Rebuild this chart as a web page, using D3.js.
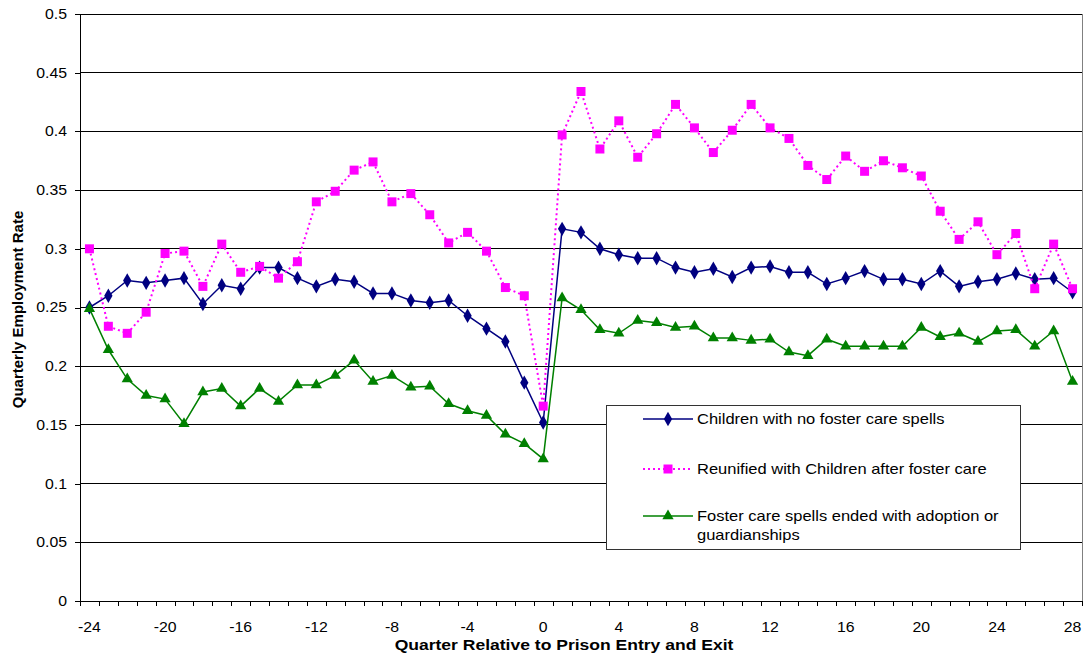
<!DOCTYPE html>
<html>
<head>
<meta charset="utf-8">
<script src="https://cdn.jsdelivr.net/npm/d3@7/dist/d3.min.js"></script>
<style>
  body { margin: 0; background: #fff; }
  svg { font-family: "Liberation Sans", Arial, sans-serif; }
</style>
</head>
<body>
<svg id="chart" width="1090" height="655"></svg>
<script>
// quarter relative to prison entry (<=0) and exit (>0)
const quarters = [-24, -23, -22, -21, -20, -19, -18, -17, -16, -15, -14, -13, -12, -11, -10, -9, -8, -7, -6, -5, -4, -3, -2, -1, 0,
  1, 2, 3, 4, 5, 6, 7, 8, 9, 10, 11, 12, 13, 14, 15, 16, 17, 18, 19, 20, 21, 22, 23, 24, 25, 26, 27, 28];
const xTickLabels = [-24, -20, -16, -12, -8, -4, 0, 4, 8, 12, 16, 20, 24, 28];
const yTicks = [0, 0.05, 0.1, 0.15, 0.2, 0.25, 0.3, 0.35, 0.4, 0.45, 0.5];
const yTickLabels = ["0", "0.05", "0.1", "0.15", "0.2", "0.25", "0.3", "0.35", "0.4", "0.45", "0.5"];

const noFoster = [0.250, 0.260, 0.273, 0.271, 0.273, 0.275, 0.253, 0.269, 0.266, 0.284, 0.284, 0.275, 0.268,
  0.274, 0.272, 0.262, 0.262, 0.256, 0.254, 0.256, 0.243, 0.232, 0.221, 0.186, 0.152,
  0.317, 0.314, 0.300, 0.295, 0.292, 0.292, 0.284, 0.280, 0.283, 0.276, 0.284, 0.285, 0.280, 0.280,
  0.270, 0.275, 0.281, 0.274, 0.274, 0.270, 0.281, 0.268, 0.272, 0.274, 0.279, 0.274, 0.275, 0.263];
const reunified = [0.300, 0.234, 0.228, 0.246, 0.296, 0.298, 0.268, 0.304, 0.280, 0.285, 0.275, 0.289, 0.340,
  0.349, 0.367, 0.374, 0.340, 0.347, 0.329, 0.305, 0.314, 0.298, 0.267, 0.260, 0.166,
  0.397, 0.434, 0.385, 0.409, 0.378, 0.398, 0.423, 0.403, 0.382, 0.401, 0.423, 0.403, 0.394, 0.371,
  0.359, 0.379, 0.366, 0.375, 0.369, 0.362, 0.332, 0.308, 0.323, 0.295, 0.313, 0.266, 0.304, 0.266];
const adoption = [0.249, 0.214, 0.189, 0.175, 0.172, 0.151, 0.178, 0.181, 0.166, 0.181, 0.170, 0.184, 0.184,
  0.192, 0.205, 0.187, 0.192, 0.182, 0.183, 0.168, 0.162, 0.158, 0.142, 0.134, 0.121,
  0.258, 0.248, 0.231, 0.228, 0.239, 0.237, 0.233, 0.234, 0.224, 0.224, 0.222, 0.223, 0.212, 0.209,
  0.223, 0.217, 0.217, 0.217, 0.217, 0.233, 0.225, 0.228, 0.221, 0.230, 0.231, 0.217, 0.230, 0.187];

const series = [
  { name: "Children with no foster care spells", values: noFoster, color: "#000080", dash: null, symbol: d3.symbolDiamond, size: 60 },
  { name: "Reunified with Children after foster care", values: reunified, color: "#ff00ff", dash: "2,3", symbol: d3.symbolSquare, size: 81 },
  { name: "Foster care spells ended with adoption or guardianships", values: adoption, color: "#008000", dash: null, symbol: d3.symbolTriangle, size: 55 }
];

const svg = d3.select("#chart");
const margin = { top: 14, right: 8, bottom: 54, left: 80 };
const width = 1090, height = 655;
// the reference text is drawn a bit wider than the font's natural width
const stretch = 1.13;

const x = d3.scaleBand()
  .domain(d3.range(quarters.length))
  .range([margin.left, width - margin.right])
  .padding(0);
const cx = i => x(i) + x.bandwidth() / 2;

const y = d3.scaleLinear()
  .domain([0, 0.5])
  .range([height - margin.bottom, margin.top]);

// gridlines
svg.append("g")
  .attr("shape-rendering", "crispEdges")
  .selectAll("line")
  .data(yTicks.slice(1))
  .join("line")
  .attr("x1", margin.left).attr("x2", width - margin.right)
  .attr("y1", d => y(d)).attr("y2", d => y(d))
  .attr("stroke", "#000");

// right border of plot area
svg.append("line")
  .attr("shape-rendering", "crispEdges")
  .attr("x1", width - margin.right).attr("x2", width - margin.right)
  .attr("y1", margin.top).attr("y2", height - margin.bottom)
  .attr("stroke", "#808080");

// y axis
const yAxis = g => g
  .attr("transform", `translate(${margin.left},0)`)
  .call(d3.axisLeft(y).tickValues(yTicks).tickSize(5).tickSizeOuter(0).tickPadding(8)
    .tickFormat((d, i) => yTickLabels[i]))
  .call(g => g.selectAll("text").attr("font-size", 14).attr("fill", "#000").attr("class", "wide"))
  .call(g => g.selectAll("line,path").attr("stroke", "#000").attr("shape-rendering", "crispEdges"));
svg.append("g").call(yAxis);

// x axis: tick marks at category boundaries, labels at every 4th category
const xb = d3.scaleLinear().domain([0, quarters.length]).range([margin.left, width - margin.right]);
svg.append("g")
  .attr("transform", `translate(0,${height - margin.bottom})`)
  .call(d3.axisBottom(xb).tickValues(d3.range(quarters.length + 1))
    .tickSize(5).tickSizeOuter(0).tickFormat(""))
  .call(g => g.selectAll("line,path").attr("stroke", "#000").attr("shape-rendering", "crispEdges"));

svg.append("g")
  .attr("transform", `translate(0,${height - margin.bottom})`)
  .call(d3.axisBottom(x)
    .tickValues(xTickLabels.map(q => quarters.indexOf(q)))
    .tickFormat(i => quarters[i])
    .tickSize(0).tickPadding(21))
  .call(g => g.select(".domain").remove())
  .call(g => g.selectAll("text").attr("font-size", 14).attr("fill", "#000").attr("class", "wide"));

// axis titles
svg.append("text")
  .attr("class", "wide")
  .attr("x", 564).attr("y", 650)
  .attr("text-anchor", "middle")
  .attr("font-size", 15.5).attr("font-weight", "bold")
  .text("Quarter Relative to Prison Entry and Exit");

svg.append("text")
  .attr("transform", `translate(23,${(margin.top + height - margin.bottom) / 2 + 2}) rotate(-90)`)
  .attr("text-anchor", "middle")
  .attr("font-size", 15).attr("font-weight", "bold")
  .text("Quarterly Employment Rate");

// lines and markers
const line = d3.line().x((d, i) => cx(i)).y(d => y(d));

series.forEach(s => {
  svg.append("path")
    .datum(s.values)
    .attr("fill", "none")
    .attr("stroke", s.color)
    .attr("stroke-width", s.dash ? 2 : 1.5)
    .attr("stroke-dasharray", s.dash)
    .attr("d", line);

  svg.append("g")
    .selectAll("path")
    .data(s.values)
    .join("path")
    .attr("transform", (d, i) => `translate(${cx(i)},${y(d)})`)
    .attr("d", d3.symbol(s.symbol, s.size))
    .attr("fill", s.color);
});

// legend
const legend = svg.append("g").attr("transform", "translate(606,405)");
legend.append("rect")
  .attr("x", 1).attr("y", 1).attr("width", 414).attr("height", 144)
  .attr("fill", "#999");
legend.append("rect")
  .attr("width", 414).attr("height", 144)
  .attr("fill", "#fff").attr("stroke", "#333").attr("shape-rendering", "crispEdges");

const legendRows = [14, 64, 111];
const legendLines = [
  ["Children with no foster care spells"],
  ["Reunified with Children after foster care"],
  ["Foster care spells ended with adoption or", "guardianships"]
];
series.forEach((s, i) => {
  const g = legend.append("g").attr("transform", `translate(0,${legendRows[i]})`);
  g.append("line")
    .attr("x1", 37).attr("x2", 87)
    .attr("stroke", s.color)
    .attr("stroke-width", s.dash ? 2 : 1.5)
    .attr("stroke-dasharray", s.dash);
  g.append("path")
    .attr("transform", "translate(62,0)")
    .attr("d", d3.symbol(s.symbol, s.size))
    .attr("fill", s.color);
  legendLines[i].forEach((txt, k) => {
    g.append("text")
      .attr("class", "wide")
      .attr("x", 91).attr("y", 5 + k * 19)
      .attr("font-size", 14.6).attr("fill", "#000")
      .text(txt);
  });
});

// widen text horizontally to match the reference
svg.selectAll("text.wide").each(function () {
  const len = this.getComputedTextLength();
  d3.select(this)
    .attr("textLength", len * stretch)
    .attr("lengthAdjust", "spacingAndGlyphs");
});
</script>
</body>
</html>
